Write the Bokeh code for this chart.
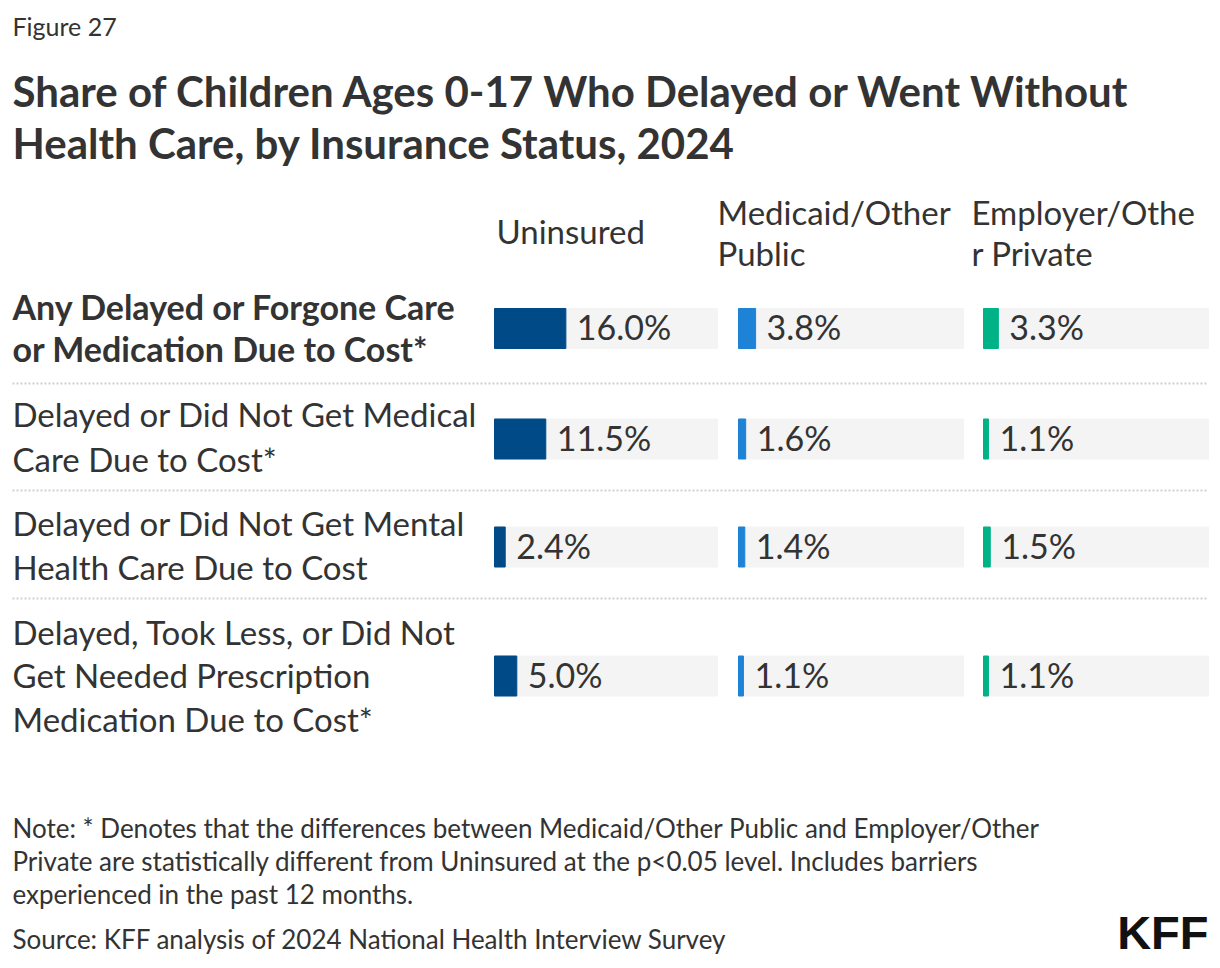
from bokeh.plotting import figure
from bokeh.models import Range1d, ColumnDataSource
from bokeh.core.properties import value
from bokeh.embed import file_html
from bokeh.resources import INLINE

# ---------------- data ----------------
groups = ["Uninsured", "Medicaid/Other Public", "Employer/Other Private"]
group_header_lines = [["Uninsured"], ["Medicaid/Other", "Public"], ["Employer/Othe", "r Private"]]
measures = [
    "Any Delayed or Forgone Care or Medication Due to Cost*",
    "Delayed or Did Not Get Medical Care Due to Cost*",
    "Delayed or Did Not Get Mental Health Care Due to Cost",
    "Delayed, Took Less, or Did Not Get Needed Prescription Medication Due to Cost*",
]
measure_label_lines = [
    ["Any Delayed or Forgone Care", "or Medication Due to Cost*"],
    ["Delayed or Did Not Get Medical", "Care Due to Cost*"],
    ["Delayed or Did Not Get Mental", "Health Care Due to Cost"],
    ["Delayed, Took Less, or Did Not", "Get Needed Prescription", "Medication Due to Cost*"],
]
uninsured = [16.0, 11.5, 2.4, 5.0]
medicaid_public = [3.8, 1.6, 1.4, 1.1]
employer_private = [3.3, 1.1, 1.5, 1.1]
series = [uninsured, medicaid_public, employer_private]
scale_max = 50.0

title_lines = ["Share of Children Ages 0-17 Who Delayed or Went Without",
               "Health Care, by Insurance Status, 2024"]
figure_label = "Figure 27"
note_lines = [
    "Note: * Denotes that the differences between Medicaid/Other Public and Employer/Other",
    "Private are statistically different from Uninsured at the p<0.05 level. Includes barriers",
    "experienced in the past 12 months.",
]
source_text = "Source: KFF analysis of 2024 National Health Interview Survey"

# ---------------- style / layout ----------------
FONT = "Lato"
TEXT = "#333333"
colors = ["#004a88", "#1e83d7", "#00b386"]
BG = "#f4f4f4"
DY = -2  # text vertical nudge

W, H = 1212, 960
p = figure(width=W, height=H, x_range=Range1d(0, W), y_range=Range1d(H, 0),
           output_backend="svg", toolbar_location=None, min_border=0)
p.axis.visible = False
p.grid.visible = False
p.outline_line_color = None
p.background_fill_color = "white"

# column pixel spans (left of bar area, right of grey track)
col_spans = [(494, 717), (738, 963), (983, 1208)]
row_centers = [328, 438.5, 546.5, 675.5]
row_label_y = [[308, 350], [415, 460], [524, 568], [633, 676, 720]]
sep_y = [383, 490, 598]

for i, (x0, x1) in enumerate(col_spans):
    ppu = (x1 - x0) / scale_max
    start = -x0 / ppu
    end = start + W / ppu
    name = f"c{i}"
    p.extra_x_ranges[name] = Range1d(start, end)
    src = ColumnDataSource(dict(y=row_centers, v=series[i],
                                lab=[f"{v:.1f}%" for v in series[i]],
                                mx=[scale_max] * len(row_centers)))
    p.hbar(y="y", left=0, right="mx", height=40, color=BG, source=src, x_range_name=name)
    p.hbar(y="y", left=0, right="v", height=40, color=colors[i], source=src, x_range_name=name)
    p.text(x="v", y="y", text="lab", source=src, x_range_name=name, x_offset=11, y_offset=DY,
           text_font=value(FONT), text_font_size="34px", text_color=TEXT,
           text_baseline="middle", text_align="left", text_font_style="normal")

# separators
for y in sep_y:
    p.line(x=[12, 1208], y=[y, y], line_color="#d0d0d0", line_width=2, line_dash="2 2")

def txt(x, y, s, size, bold=False, color=TEXT, font=FONT, align="left"):
    p.text(x=[x], y=[y + DY], text=[s], text_font=value(font), text_font_size=size,
           text_color=color, text_baseline="middle", text_align=align,
           text_font_style="bold" if bold else "normal")

txt(12, 27, figure_label, "25px")
txt(12, 92, title_lines[0], "42px", bold=True)
txt(12, 144, title_lines[1], "42px", bold=True)

header_x = [496, 717, 971]
for hx, lines in zip(header_x, group_header_lines):
    if len(lines) == 1:
        txt(hx, 232, lines[0], "33px")
    else:
        txt(hx, 213, lines[0], "33px")
        txt(hx, 254, lines[1], "33px")

for r, lines in enumerate(measure_label_lines):
    for ln, yy in zip(lines, row_label_y[r]):
        txt(12, yy, ln, "34px" if r == 0 else "33px", bold=(r == 0))

for ln, yy in zip(note_lines, [829, 862, 895]):
    txt(12, yy, ln, "26px")
txt(12, 940, source_text, "26px")

txt(1208, 934, "KFF", "47px", bold=True, color="#111111", font="Liberation Sans", align="right")

open("out.html", "w").write(file_html(p, INLINE))
